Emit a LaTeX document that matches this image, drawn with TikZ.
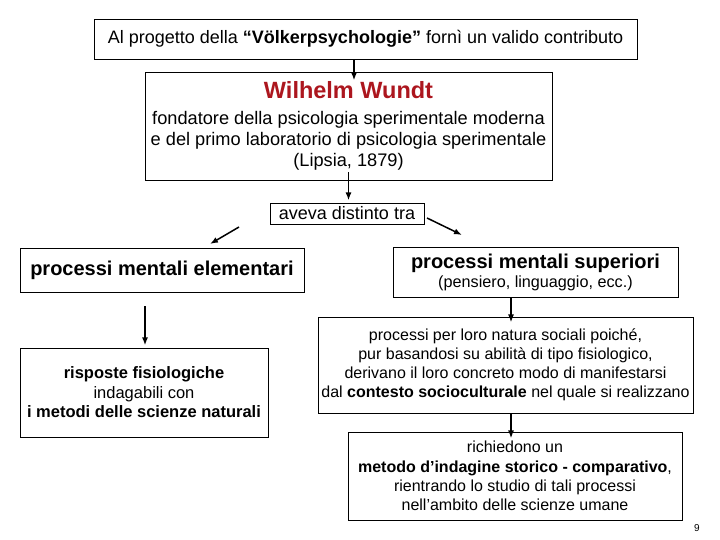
\documentclass[tikz,border=0pt]{standalone}
\usepackage{fontspec}
\setmainfont{Liberation Sans}
\usetikzlibrary{positioning,arrows.meta}
\definecolor{wundtred}{RGB}{172,22,30}

\begin{document}
\begin{tikzpicture}[x=1pt,y=-1pt,>=Latex,
  box/.style={draw,line width=0.9pt,align=center,inner sep=0pt},
  arr/.style={-{Latex[length=8pt,width=6pt]},line width=1.5pt}]
  \useasboundingbox (0,0) rectangle (720,540);
  % boxes
  \node[box,minimum width=543pt,minimum height=40pt,font=\fontsize{18}{20}\selectfont] (top) at (365.5,39)
    {Al progetto della \textbf{“Völkerpsychologie”} fornì un valido contributo};
  \node[box,minimum width=407pt,minimum height=108pt,font=\fontsize{18.2}{21}\selectfont] (wundt) at (348.5,126)
    {{\fontsize{23.5}{26}\selectfont\bfseries\color{wundtred}Wilhelm Wundt}\\[5pt]
     fondatore della psicologia sperimentale moderna\\
     e del primo laboratorio di psicologia sperimentale\\
     (Lipsia, 1879)};
  \node[box,minimum width=154pt,minimum height=21pt,font=\fontsize{18}{20}\selectfont] (aveva) at (347,213.5)
    {aveva distinto tra};
  \node[box,minimum width=284pt,minimum height=44pt,font=\fontsize{20}{22}\selectfont\bfseries] (elem) at (162,270)
    {processi mentali elementari};
  \node[box,minimum width=285pt,minimum height=50pt] (super) at (535.5,272)
    {{\fontsize{20}{22}\selectfont\bfseries processi mentali superiori}\\[2pt]
     {\fontsize{16.2}{18}\selectfont (pensiero, linguaggio, ecc.)}};
  \node[box,minimum width=248pt,minimum height=89pt,font=\fontsize{16.5}{19.5}\selectfont] (risposte) at (144,392.5)
    {\textbf{risposte fisiologiche}\\ indagabili con\\ \textbf{i metodi delle scienze naturali}};
  \node[box,minimum width=375pt,minimum height=96pt,font=\fontsize{16}{19}\selectfont] (sociali) at (505.5,365)
    {processi per loro natura sociali poiché,\\
     pur basandosi su abilità di tipo fisiologico,\\
     derivano il loro concreto modo di manifestarsi\\
     dal \textbf{contesto socioculturale} nel quale si realizzano};
  \node[box,minimum width=334pt,minimum height=88pt,font=\fontsize{16}{19.3}\selectfont] (metodo) at (515,476)
    {richiedono un\\
     \textbf{metodo d’indagine storico - comparativo},\\
     rientrando lo studio di tali processi\\
     nell’ambito delle scienze umane};
  \node[font=\fontsize{10}{11}\selectfont] (pag) at (697,528) {9};
  % arrows
  \coordinate (sxa) at (239,227);
  \coordinate (sxb) at (210,244);
  \coordinate (dxa) at (427,218);
  \coordinate (dxb) at (462,235);
  \draw[arr] ([xshift=-11.5pt]top.south) -- ++(0,21);
  \draw[arr] ([yshift=8pt]wundt.south) -- ++(0,28);
  \draw[arr] (sxa) -- (sxb);
  \draw[arr] (dxa) -- (dxb);
  \draw[arr] ([xshift=-17pt,yshift=-14pt]elem.south) -- ++(0,39);
  \draw[arr] ([xshift=-24.5pt]super.south) -- ++(0,25);
  \draw[arr] ([xshift=5.5pt]sociali.south) -- ++(0,25);
\end{tikzpicture}
\end{document}
